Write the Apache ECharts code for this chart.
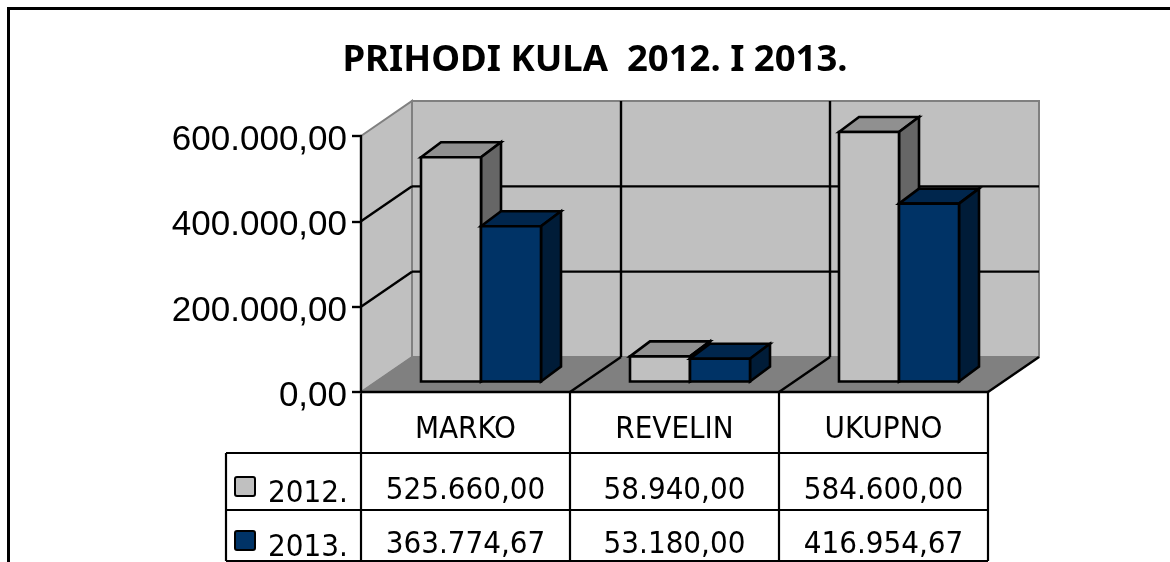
<!DOCTYPE html>
<html>
<head>
<meta charset="utf-8">
<title>Prihodi kula</title>
<script src="https://cdn.jsdelivr.net/npm/echarts@6/dist/echarts.min.js"></script>
<style>
html, body { margin: 0; padding: 0; background: #fff; }
#chart { width: 1170px; height: 562px; }
</style>
</head>
<body>
<div id="chart"></div>
<script>
const categories = ["MARKO", "REVELIN", "UKUPNO"];
const values2012 = [525660.0, 58940.0, 584600.0];
const values2013 = [363774.67, 53180.0, 416954.67];
const seriesNames = ["2012.", "2013."];
const yTicks = [0, 200000, 400000, 600000];

const titleText = "PRIHODI KULA  2012. I 2013.";

// kat i sjene stupaca
const colors2012 = { front: "#c0c0c0", top: "#909090", side: "#666666" };
const colors2013 = { front: "#003366", top: "#00264d", side: "#001c38" };

const tableFont = "'DejaVu Sans Condensed', 'DejaVu Sans', sans-serif";

const gridLeft = 361;
const gridRight = 988;
const gridTop = 136;
const gridBottom = 392;
const bandW = (gridRight - gridLeft) / categories.length;

// pomak zadnje stijenke u odnosu na prednju ravninu
const wallDx = 51;
const wallDy = -35;
// stupci stoje na sredini poda
const barShiftX = 15.5;
const barShiftY = -10.5;
const barW = 60;
const barDx = 20;
const barDy = -15;

const fmt = (v) =>
  v.toLocaleString("de-DE", { minimumFractionDigits: 2, maximumFractionDigits: 2 });

const poly = (points, fill, stroke, width) => ({
  type: "polygon",
  shape: { points: points },
  style: { fill: fill, stroke: stroke, lineWidth: width, lineJoin: "miter" },
});

const line = (x1, y1, x2, y2, color, width) => ({
  type: "line",
  shape: { x1: x1, y1: y1, x2: x2, y2: y2 },
  style: { stroke: color, lineWidth: width },
});

// stijenke, pod i mreza
const renderWalls = (params, api) => {
  const x0 = api.coord([0, 0])[0] - bandW / 2;
  const x1 = x0 + bandW * categories.length;
  const y0 = api.coord([0, 0])[1];
  const yMax = api.coord([0, 600000])[1];
  const kids = [
    poly([[x0, yMax], [x0 + wallDx, yMax + wallDy], [x0 + wallDx, y0 + wallDy], [x0, y0]], "#c0c0c0", "#808080", 2),
    poly([[x0 + wallDx, yMax + wallDy], [x1 + wallDx, yMax + wallDy], [x1 + wallDx, y0 + wallDy], [x0 + wallDx, y0 + wallDy]], "#c0c0c0", "#808080", 2),
    poly([[x0, y0], [x0 + wallDx, y0 + wallDy], [x1 + wallDx, y0 + wallDy], [x1, y0]], "#808080", "#808080", 1),
  ];
  yTicks.slice(1, -1).forEach((t) => {
    const y = api.coord([0, t])[1];
    kids.push(line(x0, y, x0 + wallDx, y + wallDy, "#000", 2.4));
    kids.push(line(x0 + wallDx, y + wallDy, x1 + wallDx, y + wallDy, "#000", 2.4));
  });
  for (let i = 1; i < categories.length; i++) {
    const x = x0 + bandW * i;
    kids.push(line(x + wallDx, yMax + wallDy, x + wallDx, y0 + wallDy, "#000", 2.4));
    kids.push(line(x, y0, x + wallDx, y0 + wallDy, "#000", 2.4));
  }
  kids.push(line(x1, y0, x1 + wallDx, y0 + wallDy, "#000", 2.4));
  return { type: "group", children: kids };
};

// jedan stupac s prednjom, gornjom i bocnom plohom
const renderBar = (slot, colors) => (params, api) => {
  const i = api.value(0);
  const center = api.coord([i, 0])[0] + barShiftX;
  const left = center + (slot - 1) * barW;
  const right = left + barW;
  const bottom = api.coord([i, 0])[1] + barShiftY;
  const top = api.coord([i, api.value(1)])[1] + barShiftY;
  return {
    type: "group",
    children: [
      poly([[left, top], [left + barDx, top + barDy], [right + barDx, top + barDy], [right, top]], colors.top, "#000", 2.6),
      poly([[right, top], [right + barDx, top + barDy], [right + barDx, bottom + barDy], [right, bottom]], colors.side, "#000", 2.6),
      poly([[left, top], [right, top], [right, bottom], [left, bottom]], colors.front, "#000", 2.6),
    ],
  };
};

// tablica podataka ispod grafa
const rowLines = [453, 510, 561];
const rowBaselines = [506, 560];
const tableLeft = 226;
const buildTable = () => {
  const els = [];
  const hLine = (x1, x2, y) => ({ type: "line", shape: { x1: x1, y1: y, x2: x2, y2: y }, style: { stroke: "#000", lineWidth: 2.2 } });
  const vLine = (x, y1, y2) => ({ type: "line", shape: { x1: x, y1: y1, x2: x, y2: y2 }, style: { stroke: "#000", lineWidth: 2.2 } });
  rowLines.forEach((y) => els.push(hLine(tableLeft, gridRight, y)));
  els.push(vLine(tableLeft, rowLines[0], rowLines[2]));
  for (let i = 0; i <= categories.length; i++) {
    els.push(vLine(gridLeft + bandW * i, gridBottom, rowLines[2]));
  }
  [values2012, values2013].forEach((vals, r) => {
    vals.forEach((v, i) => {
      els.push({
        type: "text",
        x: gridLeft + bandW * (i + 0.5),
        y: rowBaselines[r],
        style: { text: fmt(v), font: "31px " + tableFont, fill: "#000", textAlign: "center", textVerticalAlign: "bottom" },
      });
    });
    const c = r === 0 ? colors2012 : colors2013;
    els.push({
      type: "rect",
      shape: { x: 235, y: rowLines[0] + 24 + r * 54, width: 20, height: 19, r: 2 },
      style: { fill: c.front, stroke: "#000", lineWidth: 2 },
    });
    els.push({
      type: "text",
      x: 268,
      y: rowBaselines[r] + 3,
      style: { text: seriesNames[r], font: "31px " + tableFont, fill: "#000", textAlign: "left", textVerticalAlign: "bottom" },
    });
  });
  return els;
};

const chart = echarts.init(document.getElementById("chart"), null, { renderer: "canvas" });

const option = {
  backgroundColor: "#ffffff",
  animation: false,
  title: {
    text: titleText,
    left: 590,
    top: 37,
    textAlign: "center",
    textStyle: { fontFamily: "'Noto Sans'", fontWeight: "bold", fontSize: 36.5, color: "#000" },
  },
  grid: {
    left: gridLeft,
    top: gridTop,
    width: gridRight - gridLeft,
    height: gridBottom - gridTop,
  },
  xAxis: {
    type: "category",
    data: categories,
    axisLine: { show: true, lineStyle: { color: "#000", width: 2.4 } },
    axisTick: { show: false },
    axisLabel: { margin: 22, fontFamily: "'DejaVu Sans Condensed'", fontSize: 31, color: "#000" },
    z: 5,
  },
  yAxis: {
    type: "value",
    min: 0,
    max: 600000,
    interval: 200000,
    axisLine: { show: true, lineStyle: { color: "#000", width: 2.4 } },
    axisTick: { show: true, length: 9, lineStyle: { color: "#000", width: 2.4 } },
    axisLabel: {
      margin: 14,
      color: "#000",
      formatter: (v) => "{v|" + fmt(v) + "}",
      rich: {
        v: {
          fontFamily: "'Liberation Sans'",
          fontSize: 35,
          color: "#000",
          padding: [9, 0, 0, 0],
        },
      },
    },
    splitLine: { show: false },
    z: 5,
  },
  series: [
    { type: "custom", name: "zidovi", data: [[0, 0]], renderItem: renderWalls, silent: true, z: 1, clip: false },
    {
      type: "custom",
      name: seriesNames[0],
      data: categories.map((c, i) => [i, values2012[i]]),
      renderItem: renderBar(0, colors2012),
      z: 2,
      clip: false,
    },
    {
      type: "custom",
      name: seriesNames[1],
      data: categories.map((c, i) => [i, values2013[i]]),
      renderItem: renderBar(1, colors2013),
      z: 3,
      clip: false,
    },
  ],
  graphic: [
    // okvir slike, desno i dolje je odrezan
    { type: "polyline", shape: { points: [[8.5, 562], [8.5, 8.5], [1170, 8.5]] }, style: { fill: "none", stroke: "#000", lineWidth: 3 } },
    ...buildTable(),
  ],
};

chart.setOption(option);
</script>
</body>
</html>
